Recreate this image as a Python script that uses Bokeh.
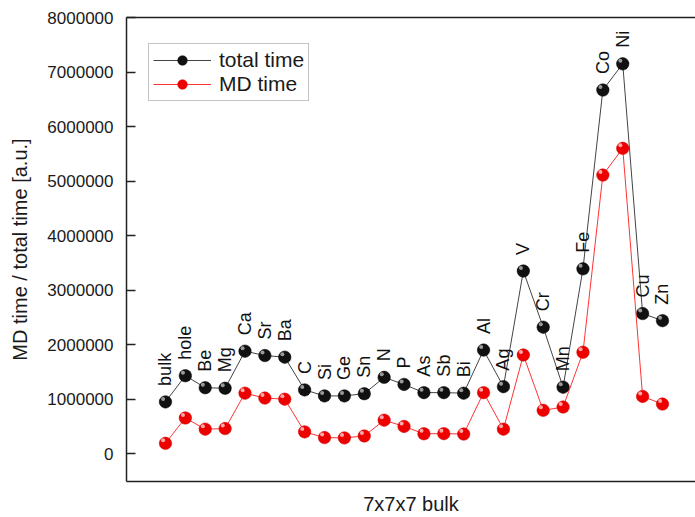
import numpy as np
from bokeh.plotting import figure
from bokeh.models import (ColumnDataSource, FixedTicker, BasicTickFormatter,
                          LinearAxis, Legend, LegendItem, Range1d)
from bokeh.core.properties import value
from bokeh.embed import file_html
from bokeh.resources import INLINE

# ---- data ----
elements = ["bulk", "hole", "Be", "Mg", "Ca", "Sr", "Ba", "C", "Si", "Ge", "Sn",
            "N", "P", "As", "Sb", "Bi", "Al", "Ag", "V", "Cr", "Mn", "Fe",
            "Co", "Ni", "Cu", "Zn"]
total_time = [950000, 1430000, 1210000, 1200000, 1880000, 1800000, 1770000,
              1170000, 1060000, 1060000, 1100000, 1400000, 1270000, 1120000,
              1120000, 1110000, 1900000, 1230000, 3350000, 2320000, 1220000,
              3390000, 6670000, 7150000, 2570000, 2440000]
md_time = [190000, 655000, 450000, 460000, 1110000, 1020000, 1000000,
           400000, 295000, 290000, 325000, 615000, 500000, 365000,
           368000, 360000, 1120000, 450000, 1810000, 795000, 855000,
           1860000, 5110000, 5600000, 1050000, 910000]
y_ticks = [0, 1000000, 2000000, 3000000, 4000000, 5000000, 6000000, 7000000, 8000000]
series_names = ["total time", "MD time"]
x_title = "7x7x7 bulk"
y_title = "MD time / total time [a.u.]"

FONT = "Liberation Sans"
xs = list(range(len(elements)))

src = ColumnDataSource(dict(
    x=xs, total=total_time, md=md_time, label=elements,
    hx=[v - 0.12 for v in xs],
    htotal=[v + 55000 for v in total_time],
    hmd=[v + 55000 for v in md_time],
))

p = figure(width=695, height=517, output_backend="svg", toolbar_location=None,
           x_range=Range1d(-1.96, 26.66), y_range=Range1d(-510000, 8000000),
           min_border_left=126, min_border_right=0, min_border_top=17,
           min_border_bottom=36, outline_line_color=None, tools="",
           background_fill_color="white", border_fill_color="white")
p.xgrid.visible = False
p.ygrid.visible = False

# y axis
ya = p.yaxis[0]
ya.ticker = FixedTicker(ticks=y_ticks)
ya.formatter = BasicTickFormatter(use_scientific=False)
ya.major_tick_in = 9
ya.major_tick_out = 0
ya.minor_tick_in = 0
ya.minor_tick_out = 0
ya.major_tick_line_width = 1.5
ya.major_tick_line_color = "#222222"
ya.axis_line_width = 1.5
ya.axis_line_color = "#222222"
ya.major_label_standoff = 13
ya.major_label_text_font = FONT
ya.major_label_text_font_size = "17px"
ya.major_label_text_color = "#1a1a1a"
ya.axis_label = y_title
ya.axis_label_text_font = FONT
ya.axis_label_text_font_size = "20px"
ya.axis_label_text_font_style = "normal"
ya.axis_label_text_color = "#1a1a1a"
ya.axis_label_standoff = 13

# x axis (no ticks)
xa = p.xaxis[0]
xa.ticker = FixedTicker(ticks=[])
xa.major_tick_in = 0
xa.major_tick_out = 0
xa.minor_tick_in = 0
xa.minor_tick_out = 0
xa.major_label_standoff = 0
xa.axis_line_width = 1.5
xa.axis_line_color = "#222222"
xa.axis_label = x_title
xa.axis_label_text_font = FONT
xa.axis_label_text_font_size = "20px"
xa.axis_label_text_font_style = "normal"
xa.axis_label_text_color = "#1a1a1a"
xa.axis_label_standoff = 11

# top frame line
top = LinearAxis(ticker=FixedTicker(ticks=[]), axis_line_color="#222222",
                 axis_line_width=1.5, major_tick_in=0, major_tick_out=0,
                 minor_tick_in=0, minor_tick_out=0, major_label_standoff=0,
                 major_label_text_font_size="0px")
p.add_layout(top, "above")

# series
l1 = p.line("x", "total", source=src, line_color="#444444", line_width=1)
m1 = p.scatter("x", "total", source=src, size=12.5, fill_color="#111111",
               line_color="#000000", line_width=0.5)
p.scatter("hx", "htotal", source=src, size=4, fill_color="#aaaaaa",
          line_color=None, fill_alpha=0.9)

l2 = p.line("x", "md", source=src, line_color="#ff3333", line_width=1)
m2 = p.scatter("x", "md", source=src, size=12.5, fill_color="#ee0000",
               line_color="#cc0000", line_width=0.5)
p.scatter("hx", "hmd", source=src, size=4, fill_color="#ffbbbb",
          line_color=None, fill_alpha=0.9)

# element labels
p.text("x", "total", text="label", source=src, angle=np.pi / 2,
       text_align="left", text_baseline="middle", y_offset=-16,
       text_font=value(FONT), text_font_size="18px", text_color="#111111")

legend = Legend(items=[LegendItem(label=series_names[0], renderers=[l1, m1]),
                       LegendItem(label=series_names[1], renderers=[l2, m2])],
                location=(22, 380), padding=4, spacing=0,
                glyph_width=58, glyph_height=24, label_height=24,
                label_standoff=8, label_text_font=FONT,
                label_text_font_size="21px", label_text_color="#1a1a1a",
                border_line_color="#888888", border_line_width=1,
                background_fill_color="white", background_fill_alpha=1.0)
p.add_layout(legend, "center")

open("out.html", "w").write(file_html(p, INLINE))
